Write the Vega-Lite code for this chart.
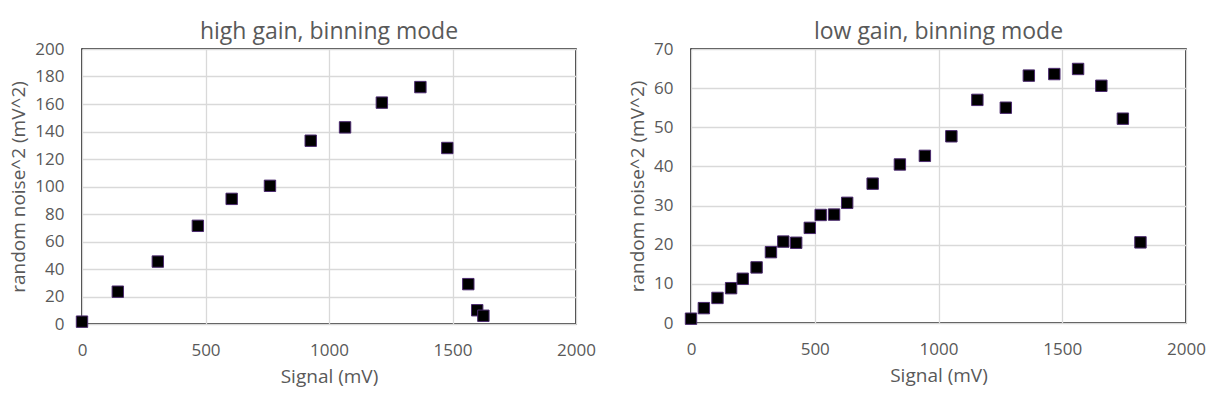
{
  "$schema": "https://vega.github.io/schema/vega-lite/v6.json",
  "background": "white",
  "padding": {"left": 9, "top": 20, "right": 0, "bottom": 0},
  "spacing": 115,
  "bounds": "flush",
  "datasets": {
    "high": [
      {"signal": 0, "noise": 1.7},
      {"signal": 145, "noise": 23.5},
      {"signal": 307, "noise": 45.4},
      {"signal": 469, "noise": 71.4},
      {"signal": 606, "noise": 91},
      {"signal": 761, "noise": 100.5},
      {"signal": 926, "noise": 133.3},
      {"signal": 1065, "noise": 143},
      {"signal": 1214, "noise": 161},
      {"signal": 1370, "noise": 172.3},
      {"signal": 1479, "noise": 128},
      {"signal": 1564, "noise": 29},
      {"signal": 1600, "noise": 10},
      {"signal": 1625, "noise": 6}
    ],
    "low": [
      {"signal": 0, "noise": 1.1},
      {"signal": 52, "noise": 3.8},
      {"signal": 107, "noise": 6.4},
      {"signal": 162, "noise": 8.9},
      {"signal": 209, "noise": 11.3},
      {"signal": 265, "noise": 14.2},
      {"signal": 323, "noise": 18.1},
      {"signal": 373, "noise": 20.8},
      {"signal": 425, "noise": 20.5},
      {"signal": 480, "noise": 24.3},
      {"signal": 524, "noise": 27.6},
      {"signal": 578, "noise": 27.7},
      {"signal": 631, "noise": 30.7},
      {"signal": 734, "noise": 35.6},
      {"signal": 844, "noise": 40.5},
      {"signal": 945, "noise": 42.7},
      {"signal": 1052, "noise": 47.7},
      {"signal": 1157, "noise": 57},
      {"signal": 1272, "noise": 55},
      {"signal": 1365, "noise": 63.2},
      {"signal": 1468, "noise": 63.6},
      {"signal": 1564, "noise": 64.9},
      {"signal": 1658, "noise": 60.6},
      {"signal": 1745, "noise": 52.2},
      {"signal": 1816, "noise": 20.6}
    ]
  },
  "config": {
    "font": "Open Sans",
    "view": {"stroke": "black", "strokeWidth": 1.5},
    "axis": {
      "gridColor": "#d9d9d9",
      "gridWidth": 1.3,
      "domain": false,
      "ticks": false,
      "labelColor": "#595959",
      "labelFontSize": 17,
      "labelFont": "Open Sans",
      "titleColor": "#595959",
      "titleFontSize": 19,
      "titleFontWeight": "normal",
      "titleFont": "Open Sans",
      "labelFlush": false,
      "format": "d"
    },
    "axisX": {"labelPadding": 18, "titlePadding": 9},
    "axisY": {"labelPadding": 18, "titlePadding": 6},
    "title": {"fontSize": 23, "fontWeight": "normal", "color": "#595959", "font": "Open Sans", "offset": -4}
  },
  "hconcat": [
    {
      "title": "high gain, binning mode",
      "width": 494,
      "height": 275,
      "data": {"name": "high"},
      "mark": {"type": "square", "size": 130, "fill": "black", "stroke": "#4b2a6e", "strokeWidth": 1, "opacity": 1},
      "encoding": {
        "x": {"field": "signal", "type": "quantitative", "title": "Signal (mV)", "scale": {"domain": [0, 2000], "nice": false}, "axis": {"values": [0, 500, 1000, 1500, 2000]}},
        "y": {"field": "noise", "type": "quantitative", "title": "random noise^2 (mV^2)", "scale": {"domain": [0, 200], "nice": false}, "axis": {"values": [0, 20, 40, 60, 80, 100, 120, 140, 160, 180, 200]}}
      }
    },
    {
      "title": "low gain, binning mode",
      "width": 495,
      "height": 274,
      "data": {"name": "low"},
      "mark": {"type": "square", "size": 130, "fill": "black", "stroke": "#4b2a6e", "strokeWidth": 1, "opacity": 1},
      "encoding": {
        "x": {"field": "signal", "type": "quantitative", "title": "Signal (mV)", "scale": {"domain": [0, 2000], "nice": false}, "axis": {"values": [0, 500, 1000, 1500, 2000]}},
        "y": {"field": "noise", "type": "quantitative", "title": "random noise^2 (mV^2)", "scale": {"domain": [0, 70], "nice": false}, "axis": {"values": [0, 10, 20, 30, 40, 50, 60, 70]}}
      }
    }
  ]
}
